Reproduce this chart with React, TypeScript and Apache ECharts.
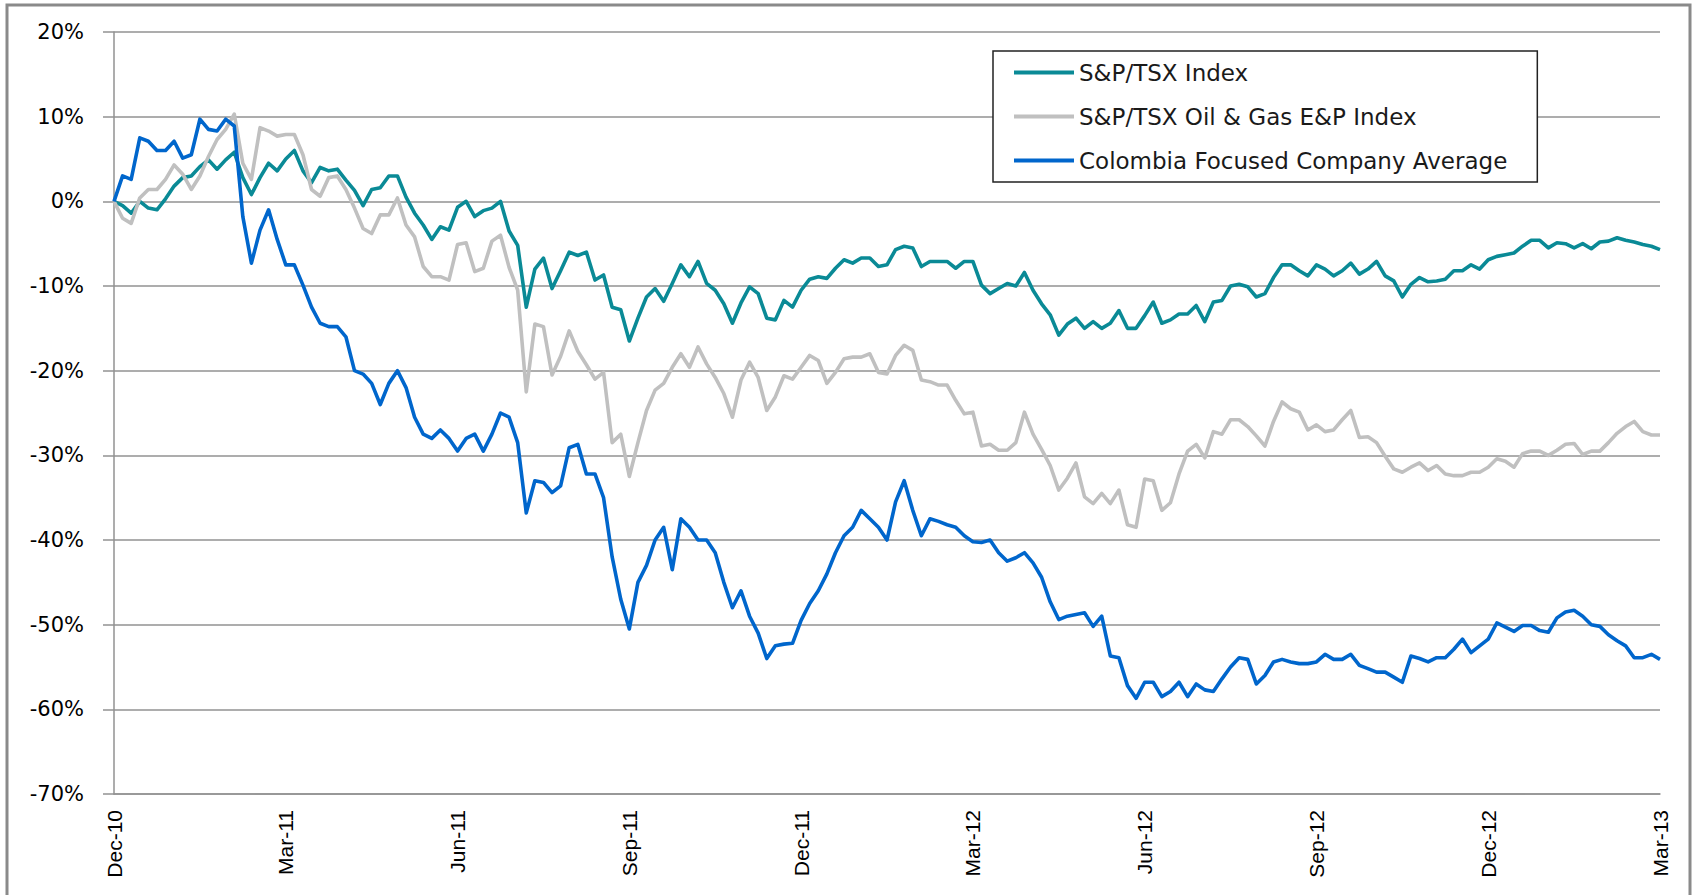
import React, { useEffect, useRef } from "react";
import * as echarts from "echarts";

// ---- DATA ----
const tickLabels = ["Dec-10", "Mar-11", "Jun-11", "Sep-11", "Dec-11", "Mar-12", "Jun-12", "Sep-12", "Dec-12", "Mar-13"];
const pointsPerQuarter = 20;

const seriesNames = ["S&P/TSX Index", "S&P/TSX Oil & Gas E&P Index", "Colombia Focused Company Average"];

const tsxIndex = [
  0, -0.5, -1.4, 0, -0.8, -1.0, 0.3, 1.8, 2.8, 3.0,
  4.1, 4.9, 3.8, 4.9, 5.8, 2.8, 0.8, 2.8, 4.5, 3.6,
  5.0, 6.0, 3.6, 2.2, 4.0, 3.6, 3.8, 2.5, 1.3, -0.5,
  1.4, 1.6, 3.0, 3.0, 0.5, -1.4, -2.8, -4.5, -3.0, -3.4,
  -0.7, 0.0, -1.8, -1.1, -0.8, 0.0, -3.5, -5.2, -12.5, -8.0,
  -6.7, -10.3, -8.2, -6.0, -6.4, -6.0, -9.3, -8.7, -12.5, -12.8,
  -16.5, -13.8, -11.3, -10.3, -11.8, -9.7, -7.5, -8.9, -7.1, -9.7,
  -10.5, -12.1, -14.4, -12.0, -10.1, -10.9, -13.8, -14.0, -11.7, -12.5,
  -10.5, -9.2, -8.9, -9.1, -7.9, -6.9, -7.3, -6.7, -6.7, -7.7,
  -7.5, -5.7, -5.3, -5.5, -7.7, -7.1, -7.1, -7.1, -7.9, -7.1,
  -7.1, -9.9, -10.9, -10.3, -9.7, -10.0, -8.4, -10.5, -12.1, -13.4,
  -15.8, -14.5, -13.8, -15.0, -14.2, -15.0, -14.4, -12.9, -15.0, -15.0,
  -13.5, -11.9, -14.4, -14.0, -13.3, -13.3, -12.3, -14.2, -11.9, -11.7,
  -10.0, -9.8, -10.1, -11.3, -10.9, -9.0, -7.5, -7.5, -8.2, -8.8,
  -7.5, -8.0, -8.8, -8.2, -7.3, -8.6, -8.0, -7.1, -8.8, -9.4,
  -11.3, -9.8, -9.0, -9.5, -9.4, -9.2, -8.2, -8.2, -7.5, -8.0,
  -6.9, -6.5, -6.3, -6.1, -5.3, -4.6, -4.6, -5.5, -4.9, -5.0,
  -5.5, -5.0, -5.6, -4.8, -4.7, -4.3, -4.6, -4.8, -5.1, -5.3,
  -5.7,
];

const oilGasIndex = [
  0, -2.0, -2.6, 0.4, 1.4, 1.4, 2.6, 4.3, 3.2, 1.4,
  3.0, 5.3, 7.3, 8.5, 10.3, 4.5, 2.6, 8.7, 8.3, 7.7,
  7.9, 7.9, 5.5, 1.4, 0.6, 2.8, 3.0, 1.4, -0.8, -3.2,
  -3.8, -1.6, -1.6, 0.4, -2.8, -4.2, -7.7, -8.9, -8.9, -9.3,
  -5.1, -4.9, -8.3, -7.9, -4.7, -4.0, -7.8, -10.5, -22.5, -14.5,
  -14.8, -20.5, -18.3, -15.3, -17.7, -19.3, -21.0, -20.2, -28.5, -27.5,
  -32.5, -28.5, -24.7, -22.3, -21.5, -19.6, -18.0, -19.6, -17.2, -19.2,
  -20.8, -22.7, -25.5, -21.1, -19.0, -20.8, -24.7, -23.1, -20.6, -21.0,
  -19.6, -18.2, -18.8, -21.5, -20.2, -18.6, -18.4, -18.4, -18.0, -20.2,
  -20.4, -18.2, -17.0, -17.6, -21.1, -21.3, -21.7, -21.7, -23.5, -25.1,
  -24.9, -28.9, -28.7, -29.4, -29.4, -28.5, -24.9, -27.5, -29.3, -31.2,
  -34.1, -32.7, -30.9, -34.9, -35.7, -34.5, -35.7, -34.1, -38.2, -38.5,
  -32.8, -33.0, -36.5, -35.6, -32.2, -29.5, -28.7, -30.3, -27.2, -27.5,
  -25.8, -25.8, -26.6, -27.7, -28.9, -26.0, -23.7, -24.5, -24.9, -27.0,
  -26.4, -27.2, -27.0, -25.8, -24.7, -27.9, -27.8, -28.5, -30.1, -31.6,
  -32.0, -31.4, -30.9, -31.8, -31.2, -32.2, -32.4, -32.4, -32.0, -32.0,
  -31.4, -30.4, -30.7, -31.4, -29.8, -29.5, -29.5, -30.0, -29.4, -28.7,
  -28.6, -29.9, -29.5, -29.5, -28.5, -27.4, -26.6, -26.0, -27.2, -27.6,
  -27.6,
];

const colombiaAverage = [
  0, 3.0, 2.6, 7.5, 7.1, 6.0, 6.0, 7.1, 5.1, 5.5,
  9.7, 8.5, 8.3, 9.7, 8.9, -1.8, -7.3, -3.4, -1.0, -4.5,
  -7.5, -7.5, -9.9, -12.5, -14.4, -14.8, -14.8, -16.0, -20.0, -20.4,
  -21.5, -24.0, -21.5, -20.0, -22.0, -25.5, -27.5, -28.0, -27.0, -28.0,
  -29.5, -28.0, -27.5, -29.5, -27.5, -25.0, -25.5, -28.5, -36.8, -33.0,
  -33.2, -34.4, -33.6, -29.1, -28.7, -32.2, -32.2, -35.0, -42.0, -47.0,
  -50.5, -45.0, -43.0, -40.0, -38.5, -43.5, -37.5, -38.5, -40.0, -40.0,
  -41.5, -45.0, -48.0, -46.0, -49.0, -51.0, -54.0, -52.5, -52.3, -52.2,
  -49.5, -47.5, -46.0, -44.0, -41.5, -39.5, -38.5, -36.5, -37.5, -38.5,
  -40.0, -35.5, -33.0, -36.5, -39.5, -37.5, -37.8, -38.2, -38.5, -39.5,
  -40.2, -40.3, -40.0, -41.5, -42.5, -42.1, -41.5, -42.7, -44.4, -47.3,
  -49.4, -49.0, -48.8, -48.6, -50.2, -49.0, -53.7, -53.9, -57.2, -58.7,
  -56.8, -56.8, -58.5, -57.9, -56.8, -58.5, -57.0, -57.7, -57.9, -56.4,
  -55.0, -53.9, -54.1, -57.0, -56.0, -54.4, -54.1, -54.4, -54.6, -54.6,
  -54.4, -53.5, -54.1, -54.1, -53.5, -54.8, -55.2, -55.6, -55.6, -56.2,
  -56.8, -53.7, -54.0, -54.4, -53.9, -53.9, -52.9, -51.7, -53.3, -52.5,
  -51.7, -49.8, -50.3, -50.8, -50.1, -50.1, -50.7, -50.9, -49.2, -48.5,
  -48.3, -49.0, -50.0, -50.2, -51.2, -51.9, -52.5, -53.9, -53.9, -53.5,
  -54.1,
];

const categories = tsxIndex.map((_, i) => String(i));

const colors = ["#0A8A96", "#C0C0C0", "#0066CC"];

export default function App() {
  const ref = useRef<HTMLDivElement>(null);

  useEffect(() => {
    if (!ref.current) return;
    const chart = echarts.init(ref.current, undefined, { renderer: "svg" });
    const gridColor = "#929292";
    const option = {
      animation: false,
      backgroundColor: "#ffffff",
      grid: { left: 114, right: 32, top: 32, bottom: 101, containLabel: false },
      legend: {
        orient: "vertical",
        left: 993,
        top: 51,
        padding: [10, 30, 10, 21],
        itemGap: 21,
        itemWidth: 60,
        itemHeight: 4,
        icon: "rect",
        borderColor: "#222",
        borderWidth: 1.5,
        backgroundColor: "#fff",
        data: seriesNames,
        textStyle: { fontFamily: "DejaVu Sans", fontSize: 23, color: "#1a1a1a" },
      },
      graphic: [
        {
          type: "rect",
          shape: { x: 7, y: 5, width: 1683, height: 905 },
          style: { fill: "none", stroke: "#8a8a8a", lineWidth: 3 },
          silent: true,
          z: 100,
        },
      ],
      xAxis: {
        type: "category",
        data: categories,
        boundaryGap: false,
        axisLine: { onZero: false, lineStyle: { color: gridColor, width: 1.5 } },
        axisTick: { show: false },
        splitLine: { show: false },
        axisLabel: {
          interval: (index: number) => index % pointsPerQuarter === 0,
          formatter: (_v: string, index: number) =>
            index % pointsPerQuarter === 0 ? tickLabels[index / pointsPerQuarter] : "",
          rotate: 90,
          margin: 16,
          fontFamily: "Liberation Sans",
          fontSize: 21,
          color: "#000",
        },
      },
      yAxis: {
        type: "value",
        min: -70,
        max: 20,
        interval: 10,
        axisLine: { show: true, lineStyle: { color: gridColor, width: 1.5 } },
        axisTick: { show: true, length: 11, lineStyle: { color: gridColor, width: 1.5 } },
        splitLine: { show: true, lineStyle: { color: gridColor, width: 1.5 } },
        axisLabel: {
          formatter: (v: number) => `${v}%`,
          margin: 30,
          fontFamily: "DejaVu Sans",
          fontSize: 21,
          color: "#000",
        },
      },
      series: [
        { name: seriesNames[0], data: tsxIndex, color: colors[0] },
        { name: seriesNames[1], data: oilGasIndex, color: colors[1] },
        { name: seriesNames[2], data: colombiaAverage, color: colors[2] },
      ].map((s) => ({
        type: "line",
        name: s.name,
        data: s.data,
        showSymbol: false,
        symbol: "none",
        itemStyle: { color: s.color },
        lineStyle: { color: s.color, width: 3.6, join: "round" },
      })),
    };
    chart.setOption(option as any);
    return () => chart.dispose();
  }, []);

  return (
    <div
      ref={ref}
      style={{ position: "fixed", left: 0, top: 0, width: 1692, height: 895, background: "#fff" }}
    />
  );
}
